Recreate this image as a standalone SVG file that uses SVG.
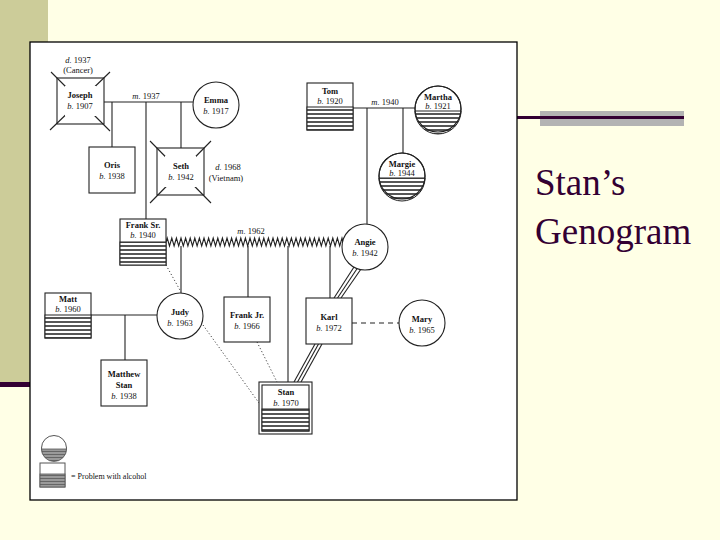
<svg xmlns="http://www.w3.org/2000/svg" width="720" height="540" viewBox="0 0 720 540">
<defs>
<pattern id="hatch" patternUnits="userSpaceOnUse" width="6" height="4">
<rect width="6" height="4" fill="#fff"/>
<line x1="0" y1="2" x2="6" y2="2" stroke="#2a2a2a" stroke-width="1.6"/>
</pattern>
<pattern id="hatch2" patternUnits="userSpaceOnUse" width="6" height="3">
<rect width="6" height="3" fill="#9a9a9a"/>
<line x1="0" y1="1.5" x2="6" y2="1.5" stroke="#666" stroke-width="1"/>
</pattern>
<style>
.box{fill:#fff;stroke:#222;stroke-width:1.1}
.hat{fill:url(#hatch);stroke:#222;stroke-width:1}
.ln{stroke:#222;stroke-width:1.1;fill:none}
.dot{stroke:#444;stroke-width:1;stroke-dasharray:1.2,2.2;fill:none}
.nm{font-family:"Liberation Serif","Times New Roman",serif;font-size:8.5px;font-weight:bold;text-anchor:middle;fill:#111}
.dt{font-family:"Liberation Serif","Times New Roman",serif;font-size:8.5px;text-anchor:middle;fill:#111}
.it{font-style:italic}
.title{font-family:"Liberation Serif","Times New Roman",serif;font-size:37px;fill:#330033}
</style>
</defs>
<rect width="720" height="540" fill="#FFFFE6"/>
<rect x="0" y="0" width="48" height="382" fill="#CCCC99"/>
<rect x="0" y="382" width="31" height="5" fill="#330033"/>
<rect x="540" y="111" width="144" height="15" fill="#B3B3B3"/>
<line x1="517" y1="117.5" x2="684" y2="117.5" stroke="#330033" stroke-width="3"/>
<rect x="30" y="42" width="487" height="458" fill="#fff" stroke="#000" stroke-width="1.3"/>
<text class="title" x="535" y="195">Stan’s</text>
<text class="title" x="535" y="244">Genogram</text>

<g id="connectors">
<line class="ln" x1="104" y1="102" x2="193" y2="102"/>
<text class="dt" x="146" y="99"><tspan class="it">m.</tspan> 1937</text>
<line class="ln" x1="112" y1="102" x2="112" y2="147"/>
<line class="ln" x1="146" y1="102" x2="146" y2="219"/>
<line class="ln" x1="181" y1="102" x2="181" y2="148"/>
<line class="ln" x1="353" y1="108" x2="415" y2="108"/>
<text class="dt" x="385" y="105"><tspan class="it">m.</tspan> 1940</text>
<line class="ln" x1="367" y1="108" x2="367" y2="224"/>
<line class="ln" x1="403" y1="108" x2="403" y2="153"/>
<path class="ln" stroke-width="0.9" d="M166,242 l1.2,-4 l2.3,8 l2.3,-8 l2.3,8 l2.3,-8 l2.3,8 l2.3,-8 l2.3,8 l2.3,-8 l2.3,8 l2.3,-8 l2.3,8 l2.3,-8 l2.3,8 l2.3,-8 l2.3,8 l2.3,-8 l2.3,8 l2.3,-8 l2.3,8 l2.3,-8 l2.3,8 l2.3,-8 l2.3,8 l2.3,-8 l2.3,8 l2.3,-8 l2.3,8 l2.3,-8 l2.3,8 l2.3,-8 l2.3,8 l2.3,-8 l2.3,8 l2.3,-8 l2.3,8 l2.3,-8 l2.3,8 l2.3,-8 l2.3,8 l2.3,-8 l2.3,8 l2.3,-8 l2.3,8 l2.3,-8 l2.3,8 l2.3,-8 l2.3,8 l2.3,-8 l2.3,8 l2.3,-8 l2.3,8 l2.3,-8 l2.3,8 l2.3,-8 l2.3,8 l2.3,-8 l2.3,8 l2.3,-8 l2.3,8 l2.3,-8 l2.3,8 l2.3,-8 l2.3,8 l2.3,-8 l2.3,8 l2.3,-8 l2.3,8 l2.3,-8 l2.3,8 l2.3,-8 l2.3,8 l2.3,-8 l2.3,8 l2.3,-8 l2.3,8 l2.3,-8 l2.3,8 l1.2,-4"/>
<text class="dt" x="251" y="234"><tspan class="it">m.</tspan> 1962</text>
<line class="ln" x1="181" y1="246" x2="181" y2="293"/>
<line class="ln" x1="248" y1="246" x2="248" y2="297"/>
<line class="ln" x1="288" y1="246" x2="288" y2="382"/>
<line class="ln" x1="330" y1="246" x2="330" y2="298"/>
<line class="ln" x1="354" y1="267" x2="334" y2="298"/>
<line class="ln" x1="357.5" y1="268" x2="337.5" y2="298"/>
<line class="ln" x1="361" y1="269" x2="341" y2="298"/>
<line class="ln" x1="315" y1="344" x2="294" y2="382"/>
<line class="ln" x1="318.5" y1="344" x2="297.5" y2="382"/>
<line class="ln" x1="322" y1="344" x2="301" y2="382"/>
<line class="ln" x1="352" y1="323" x2="399" y2="323" stroke-dasharray="5,4"/>
<line class="ln" x1="91" y1="315" x2="157" y2="315"/>
<line class="ln" x1="125" y1="315" x2="125" y2="360"/>
<line class="dot" x1="166" y1="265" x2="181" y2="292"/>
<line class="dot" x1="203" y1="325" x2="259" y2="403"/>
<line class="dot" x1="257" y1="342" x2="277" y2="382"/>
</g>

<g id="joseph">
<line class="ln" x1="51" y1="72" x2="110" y2="131"/>
<line class="ln" x1="110" y1="72" x2="50" y2="130"/>
<rect x="65" y="86" width="31" height="30" fill="#fff"/>
<rect class="box" x="57" y="78" width="47" height="46" style="fill:none"/>
<text class="nm" x="80" y="98">Joseph</text>
<text class="dt" x="80" y="109"><tspan class="it">b.</tspan> 1907</text>
<text class="dt" x="78" y="63"><tspan class="it">d.</tspan> 1937</text>
<text class="dt" x="78" y="73">(Cancer)</text>
</g>
<g id="emma">
<circle class="box" cx="216" cy="105" r="23"/>
<text class="nm" x="216" y="103">Emma</text>
<text class="dt" x="216" y="114"><tspan class="it">b.</tspan> 1917</text>
</g>
<g id="oris">
<rect class="box" x="89" y="147" width="46" height="46"/>
<text class="nm" x="112" y="168">Oris</text>
<text class="dt" x="112" y="179"><tspan class="it">b.</tspan> 1938</text>
</g>
<g id="seth">
<line class="ln" x1="150" y1="141" x2="211" y2="203"/>
<line class="ln" x1="211" y1="141" x2="150" y2="203"/>
<rect x="165" y="156" width="31" height="31" fill="#fff"/>
<rect class="box" x="157" y="148" width="47" height="47" style="fill:none"/>
<text class="nm" x="181" y="169">Seth</text>
<text class="dt" x="181" y="180"><tspan class="it">b.</tspan> 1942</text>
<text class="dt" x="228" y="170"><tspan class="it">d.</tspan> 1968</text>
<text class="dt" x="226" y="181">(Vietnam)</text>
</g>
<g id="tom">
<rect class="box" x="307" y="83" width="46" height="47"/>
<rect class="hat" x="307" y="107" width="46" height="23"/>
<text class="nm" x="330" y="94">Tom</text>
<text class="dt" x="330" y="104"><tspan class="it">b.</tspan> 1920</text>
</g>
<g id="martha">
<circle class="box" cx="438" cy="109" r="23"/>
<path class="hat" d="M415,111 A23,23 0 0 0 461,111 Z"/>
<circle cx="438" cy="109" r="23" fill="none" stroke="#222" stroke-width="1.1"/>
<text class="nm" x="438" y="100">Martha</text>
<text class="dt" x="438" y="109"><tspan class="it">b.</tspan> 1921</text>
</g>
<g id="margie">
<circle class="box" cx="402" cy="176" r="23"/>
<path class="hat" d="M379,178 A23,23 0 0 0 425,178 Z"/>
<circle cx="402" cy="176" r="23" fill="none" stroke="#222" stroke-width="1.1"/>
<text class="nm" x="402" y="167">Margie</text>
<text class="dt" x="402" y="176"><tspan class="it">b.</tspan> 1944</text>
</g>
<g id="frank-sr">
<rect class="box" x="120" y="219" width="46" height="46"/>
<rect class="hat" x="120" y="242" width="46" height="23"/>
<text class="nm" x="143" y="228">Frank Sr.</text>
<text class="dt" x="143" y="238"><tspan class="it">b.</tspan> 1940</text>
</g>
<g id="angie">
<circle class="box" cx="365" cy="247" r="23"/>
<text class="nm" x="365" y="245">Angie</text>
<text class="dt" x="365" y="256"><tspan class="it">b.</tspan> 1942</text>
</g>
<g id="matt">
<rect class="box" x="45" y="293" width="46" height="45"/>
<rect class="hat" x="45" y="315" width="46" height="23"/>
<text class="nm" x="68" y="302">Matt</text>
<text class="dt" x="68" y="312"><tspan class="it">b.</tspan> 1960</text>
</g>
<g id="judy">
<circle class="box" cx="180" cy="316" r="23"/>
<text class="nm" x="180" y="315">Judy</text>
<text class="dt" x="180" y="326"><tspan class="it">b.</tspan> 1963</text>
</g>
<g id="frank-jr">
<rect class="box" x="224" y="297" width="46" height="45"/>
<text class="nm" x="247" y="318">Frank Jr.</text>
<text class="dt" x="247" y="329"><tspan class="it">b.</tspan> 1966</text>
</g>
<g id="karl">
<rect class="box" x="306" y="298" width="46" height="46"/>
<text class="nm" x="329" y="320">Karl</text>
<text class="dt" x="329" y="331"><tspan class="it">b.</tspan> 1972</text>
</g>
<g id="mary">
<circle class="box" cx="422" cy="323" r="23"/>
<text class="nm" x="422" y="322">Mary</text>
<text class="dt" x="422" y="333"><tspan class="it">b.</tspan> 1965</text>
</g>
<g id="matthew-stan">
<rect class="box" x="101" y="360" width="46" height="46"/>
<text class="nm" x="124" y="377">Matthew</text>
<text class="nm" x="124" y="388">Stan</text>
<text class="dt" x="124" y="399"><tspan class="it">b.</tspan> 1938</text>
</g>
<g id="stan">
<rect class="box" x="259" y="382" width="53" height="52"/>
<rect class="box" x="262" y="385" width="47" height="46"/>
<rect class="hat" x="262" y="409" width="47" height="22"/>
<text class="nm" x="286" y="395">Stan</text>
<text class="dt" x="286" y="406"><tspan class="it">b.</tspan> 1970</text>
</g>
<g id="legend">
<circle cx="54" cy="448" r="12.5" fill="#fff" stroke="#555" stroke-width="1"/>
<path d="M41.5,449 A12.5,12.5 0 0 0 66.5,449 Z" fill="url(#hatch2)" stroke="#555" stroke-width="0.8"/>
<rect x="40" y="463" width="25" height="24" fill="#fff" stroke="#555" stroke-width="1"/>
<rect x="40" y="474" width="25" height="13" fill="url(#hatch2)" stroke="#555" stroke-width="0.8"/>
<text class="dt" x="71" y="479" style="text-anchor:start;font-size:8px">= Problem with alcohol</text>
</g>
</svg>
